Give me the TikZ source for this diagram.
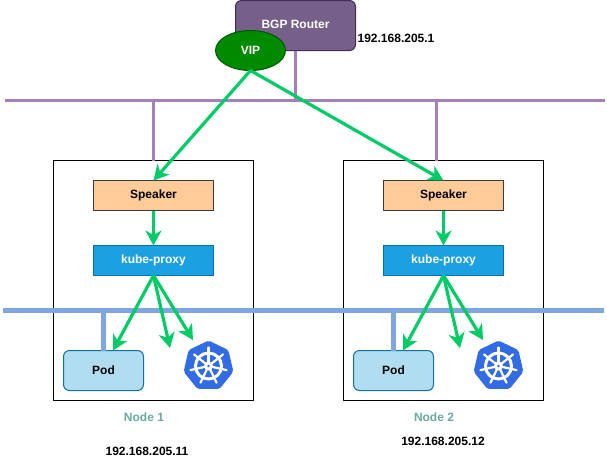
\documentclass[tikz,border=0pt]{standalone}
\usepackage{fontspec}
\setmainfont{Liberation Sans}
\usetikzlibrary{arrows.meta,shapes.geometric}
\definecolor{routerfill}{HTML}{76608A}
\definecolor{routerline}{HTML}{432D57}
\definecolor{vipfill}{HTML}{008A00}
\definecolor{vipline}{HTML}{005700}
\definecolor{busa}{HTML}{A680B8}
\definecolor{busb}{HTML}{7EA6E0}
\definecolor{flow}{HTML}{00CC66}
\definecolor{speakerfill}{HTML}{FFCC99}
\definecolor{speakerline}{HTML}{36393D}
\definecolor{proxyfill}{HTML}{1BA1E2}
\definecolor{proxyline}{HTML}{006EAF}
\definecolor{podfill}{HTML}{B1DDF0}
\definecolor{podline}{HTML}{10739E}
\definecolor{nodetext}{HTML}{67AB9F}
\definecolor{kubeblue}{HTML}{326CE5}
\tikzset{
	boxbase/.style={draw,inner sep=0pt,outer sep=0pt,line width=1pt,minimum width=120,minimum height=30},
	nodebox/.style={draw=black,inner sep=0pt,outer sep=0pt,line width=1pt,minimum width=200,minimum height=240},
	speaker/.style={boxbase,draw=speakerline,fill=speakerfill},
	proxy/.style={boxbase,draw=proxyline,fill=proxyfill,text=white},
	pod/.style={boxbase,draw=podline,fill=podfill,rounded corners=6,minimum width=80,minimum height=40},
	flowline/.style={draw=flow,line width=3.2pt,-{Stealth[length=15pt,width=16pt,inset=4.5pt]}},
	wire a/.style={draw=busa,line width=3pt},
	wire b/.style={draw=busb,line width=5pt},
	iplabel/.style={inner sep=0pt,text=black},
	kube/.style={regular polygon,regular polygon sides=7,fill=kubeblue,rounded corners=2,inner sep=0pt,outer sep=0pt,minimum size=51},
}
\newcommand{\kubewheel}[1]{%
	\draw[white,line width=3pt] (#1) circle (13);
	\foreach \a in {90,141.43,192.86,244.29,295.71,347.14,398.57}
		\draw[white,line width=2.2pt,line cap=round] (#1) -- ++(\a:-18.5);
	\fill[white] (#1) circle (4.5);
	\fill[kubeblue] (#1) circle (1.3);
}
\begin{document}
\begin{tikzpicture}[x=1pt,y=-1pt,font=\fontsize{12}{14}\selectfont\bfseries,line join=round]
	\useasboundingbox (0,0) rectangle (607,471);
	%%Bus
	\coordinate (busaL) at (5,100.5);
	\coordinate (busaR) at (605,100.5);
	\coordinate (busbL) at (3,310.5);
	\coordinate (busbR) at (604,310.5);
	%%Router
	\node[draw=routerline,fill=routerfill,text=white,rounded corners=6,line width=1pt,inner sep=0pt,outer sep=0pt,minimum width=120,minimum height=50] (router) at (295.5,25.5) {\raisebox{3pt}{BGP Router}};
	\node[draw=vipline,fill=vipfill,text=white,ellipse,line width=1pt,inner sep=0pt,outer sep=0pt,minimum width=70,minimum height=40] (vip) at (250.5,50.5) {VIP};
	\node[iplabel] (iprouter) at (396,38) {192.168.205.1};
	%%Node 1
	\node[nodebox] (nodea) at (153.5,280.5) {};
	\node[speaker] (speakera) at (153.5,195.5) {\raisebox{1pt}{Speaker}};
	\node[proxy] (proxya) at (153.5,260.5) {kube-proxy};
	\node[pod] (poda) at (103.5,370.5) {Pod};
	\node[kube] (kubea) at (208.5,366) {};
	\kubewheel{208.5,366}
	\coordinate (flowaa) at (170,348);
	\coordinate (flowab) at (193,340);
	\node[iplabel,text=nodetext] (labela) at (144,417.5) {Node 1};
	\node[iplabel] (ipa) at (147,451.5) {192.168.205.11};
	%%Node 2
	\node[nodebox] (nodeb) at (443.5,280.5) {};
	\node[speaker] (speakerb) at (443.5,195.5) {\raisebox{1pt}{Speaker}};
	\node[proxy] (proxyb) at (443.5,260.5) {kube-proxy};
	\node[pod] (podb) at (393.5,370.5) {Pod};
	\node[kube] (kubeb) at (498.5,366) {};
	\kubewheel{498.5,366}
	\coordinate (flowba) at (460,348);
	\coordinate (flowbb) at (483,340);
	\node[iplabel,text=nodetext] (labelb) at (434,417.5) {Node 2};
	\node[iplabel] (ipb) at (443,441) {192.168.205.12};
	%%Wires
	\draw[wire a] (busaL) -- (busaR);
	\draw[wire a] (router.south) -- (router.south |- busaL);
	\draw[wire a] (nodea.north) -- (nodea.north |- busaL);
	\draw[wire a] ([xshift=-7.5]nodeb.north) -- ([xshift=-7.5]nodeb.north |- busaL);
	\draw[wire b] (busbL) -- (busbR);
	\draw[wire b] (poda.north) -- (poda.north |- busbL);
	\draw[wire b] (podb.north) -- (podb.north |- busbL);
	%%Flows
	\draw[flowline] (vip.south) -- (speakera.north);
	\draw[flowline] (vip.south) -- (speakerb.north);
	\draw[flowline] (speakera.south) -- (proxya.north);
	\draw[flowline] (speakerb.south) -- (proxyb.north);
	\draw[flowline] (proxya.south) -- ([xshift=-30.5]poda.north east);
	\draw[flowline] (proxya.south) -- (flowaa);
	\draw[flowline] (proxya.south) -- (flowab);
	\draw[flowline] (proxyb.south) -- ([xshift=-30.5]podb.north east);
	\draw[flowline] (proxyb.south) -- (flowba);
	\draw[flowline] (proxyb.south) -- (flowbb);
\end{tikzpicture}
\end{document}
